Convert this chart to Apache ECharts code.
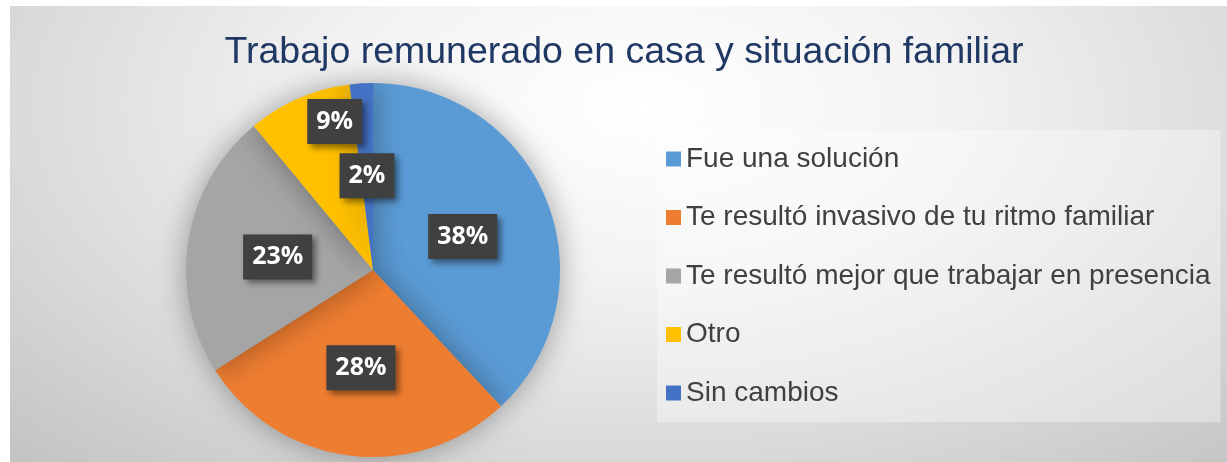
<!DOCTYPE html>
<html>
<head>
<meta charset="utf-8">
<script src="https://cdn.jsdelivr.net/npm/echarts@6/dist/echarts.min.js"></script>
<style>
  html, body { margin: 0; padding: 0; background: #fff; }
  #pie-chart {
    position: absolute; left: 10px; top: 6px; width: 1217px; height: 456px;
    background: radial-gradient(ellipse 75% 110% at 52% 22%, #ffffff 0%, #f2f2f2 35%, #d9d9d9 70%, #c2c2c2 100%);
  }
</style>
</head>
<body>
<div id="pie-chart"></div>
<script>
  const categories = ['Fue una solución', 'Te resultó invasivo de tu ritmo familiar', 'Te resultó mejor que trabajar en presencia', 'Otro', 'Sin cambios']
  const values = [38, 28, 23, 9, 2]
  const colors = ['#5b9bd5', '#ed7d31', '#a5a5a5', '#ffc000', '#4472c4']

  const myChart = echarts.init(document.getElementById('pie-chart'))
  myChart.setOption({
    title: {
      text: 'Trabajo remunerado en casa y situación familiar',
      left: 609, top: 23, textAlign: 'center',
      textStyle: { color: '#1f3864', fontSize: 37.5, fontWeight: 'normal', fontFamily: 'Liberation Sans, Arial, sans-serif' }
    },
    legend: {
      orient: 'vertical',
      left: 647, top: 124,
      width: 580,
      padding: [15, 10, 15, 9],
      backgroundColor: 'rgba(255,255,255,0.35)',
      itemWidth: 15, itemHeight: 15, itemGap: 30.5,
      icon: 'rect',
      selectedMode: false,
      textStyle: { color: '#404040', fontSize: 28, lineHeight: 28, fontFamily: 'Liberation Sans, Arial, sans-serif' },
      data: categories
    },
    series: [{
      type: 'pie',
      center: [363, 264],
      radius: 187,
      startAngle: 90,
      clockwise: true,
      silent: true,
      itemStyle: { shadowBlur: 30, shadowColor: 'rgba(0,0,0,0.35)' },
      label: {
        position: 'inside',
        formatter: '{d}%',
        color: '#fff',
        fontSize: 25,
        fontWeight: 'bold',
        fontFamily: 'Open Sans, Liberation Sans, sans-serif',
        backgroundColor: '#404040',
        padding: [12, 9, 8, 9],
        shadowBlur: 6, shadowOffsetX: 4, shadowOffsetY: 4, shadowColor: 'rgba(0,0,0,0.45)'
      },
      labelLayout: function (p) {
        if (p.dataIndex === 3) return { dy: -60 }
        return { dy: 2 }
      },
      data: categories.map((name, i) => ({ name, value: values[i], itemStyle: { color: colors[i] } }))
    }]
  })
</script>
</body>
</html>
